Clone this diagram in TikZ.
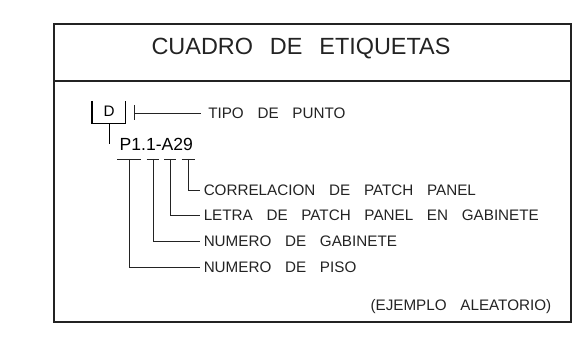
\documentclass[tikz,border=0pt]{standalone}
\usepackage{fontspec}
\setmainfont{Liberation Sans}
\definecolor{inkdark}{RGB}{35,35,35}
\newcommand\cadbody{\fontsize{13}{15}\selectfont\spaceskip=0.9em\relax}
\newcommand\cadhead{\fontsize{20}{24}\selectfont\spaceskip=0.72em\relax}

\begin{document}
\begin{tikzpicture}[
    x=0.03cm, y=-0.03cm,
    frame/.style={draw=inkdark, line width=0.9pt},
    lead/.style={draw=inkdark, line width=0.65pt},
    bracket/.style={draw=black, line width=1.3pt},
    cadlabel/.style={anchor=west, inner sep=3pt, text=inkdark, font=\cadbody},
]
\useasboundingbox (0,0) rectangle (581,346);

% outer frame and title strip
\draw[frame] (54,24) rectangle (571,322);
\draw[frame] (54,81) -- (571,81);
\node[text=inkdark, font=\cadhead] (title) at (301,49) {CUADRO DE ETIQUETAS};

% point type bracket
\node[text=black, font=\fontsize{13}{15}\selectfont] (tipo) at (109,111.7) {D};
\draw[bracket] (92,101) |- (125.7,123.5) -- (125.7,101);
\draw[bracket] (109.5,123.5) -- (109.5,144);
\coordinate (tipotick) at (134.3,113);
\draw[lead] (134.3,105) -- (134.3,120);
\node[cadlabel, inner sep=6pt] (tipolbl) at (201,113) {TIPO DE PUNTO};
\draw[lead] (tipotick) -- (tipolbl.west);

% label code
\node[text=black, font=\fontsize{15}{18}\selectfont] (code) at (156.3,144.5) {P1.1-A29};

% one leader per part of the code
\foreach \tx/\half/\vx/\ly/\nm/\txt in {
    129/11.7/129.7/267/piso/{NUMERO DE PISO},
    153/6.3/153.3/241.5/gab/{NUMERO DE GABINETE},
    170.2/5.8/170.5/215.5/letra/{LETRA DE PATCH PANEL EN GABINETE},
    188.3/6.7/188.5/190/corr/{CORRELACION DE PATCH PANEL}}{
  \coordinate (t\nm) at (\vx,159);
  \draw[lead] (\tx-\half,159) -- (\tx+\half,159);
  \node[cadlabel] (\nm) at (200,\ly) {\txt};
  \draw[lead] (t\nm) |- (\nm.west);
}

% note
\node[cadlabel, anchor=east] (nota) at (555,307) {(EJEMPLO ALEATORIO)};

\end{tikzpicture}
\end{document}
